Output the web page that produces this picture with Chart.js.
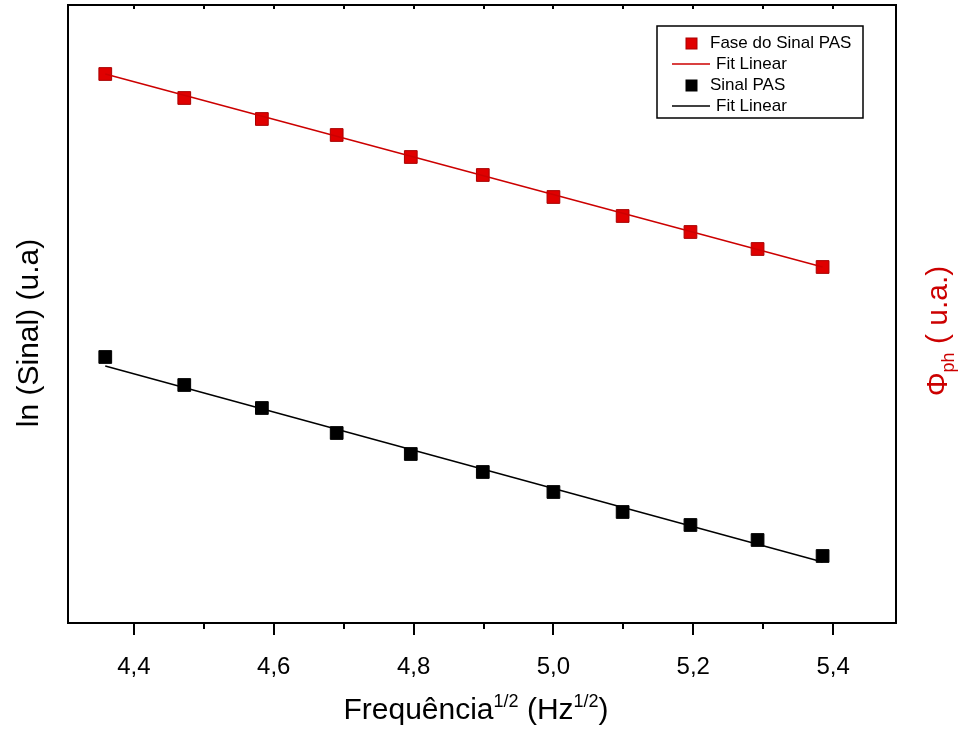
<!DOCTYPE html>
<html>
<head>
<meta charset="utf-8">
<script src="https://cdn.jsdelivr.net/npm/chart.js@4/dist/chart.umd.min.js"></script>
<style>
  html, body { margin: 0; padding: 0; background: #fff; }
  #wrap { width: 965px; height: 731px; }
</style>
</head>
<body>
<div id="wrap"><canvas id="chart" width="965" height="731"></canvas></div>
<script>
// sqrt(frequency) values on the x axis
const freqSqrt = [4.359, 4.472, 4.583, 4.690, 4.796, 4.899, 5.000, 5.099, 5.196, 5.292, 5.385];
// signal values (arbitrary units, no ticks shown on the y axis)
const faseSinal = [549, 525, 504, 488, 466, 448, 426, 407, 391, 374, 356];
const sinalPAS = [266, 238, 215, 190, 169, 151, 131, 111, 98, 83, 67];
// fitted lines, endpoints
const fitX = [4.359, 5.385];
const faseFit = [549, 356];
const sinalFit = [257, 61];
// tick labels
const majorTicks = [4.4, 4.6, 4.8, 5.0, 5.2, 5.4];
const minorTicks = [4.3, 4.5, 4.7, 4.9, 5.1, 5.3];

const FONT = "'Liberation Sans', Arial, sans-serif";
const RED = '#e00000';
const RED_DARK = '#a80000';

function pts(xs, ys) {
    return xs.map((x, i) => ({ x: x, y: ys[i] }));
}

// Frame, ticks, titles and legend box
const decorPlugin = {
    id: 'decor',
    afterDraw(chart) {
        const ctx = chart.ctx;
        const a = chart.chartArea;
        const xs = chart.scales.x;
        ctx.save();

        // frame
        ctx.strokeStyle = '#000';
        ctx.lineWidth = 2;
        ctx.strokeRect(a.left, a.top, a.right - a.left, a.bottom - a.top);

        // bottom ticks (outside) and top ticks (inside)
        ctx.lineWidth = 2;
        majorTicks.concat(minorTicks).forEach(v => {
            const px = Math.round(xs.getPixelForValue(v));
            if (px < a.left || px > a.right) return;
            const major = majorTicks.includes(v);
            ctx.beginPath();
            ctx.moveTo(px, a.bottom);
            ctx.lineTo(px, a.bottom + (major ? 12 : 6));
            ctx.moveTo(px, a.top);
            ctx.lineTo(px, a.top + 4);
            ctx.stroke();
        });

        // x title with superscripts
        const parts = [
            { t: 'Frequência', s: 30, dy: 0 },
            { t: '1/2', s: 18, dy: -12 },
            { t: ' (Hz', s: 30, dy: 0 },
            { t: '1/2', s: 18, dy: -12 },
            { t: ')', s: 30, dy: 0 }
        ];
        ctx.fillStyle = '#000';
        ctx.textBaseline = 'alphabetic';
        ctx.textAlign = 'left';
        let total = 0;
        parts.forEach(p => { ctx.font = p.s + 'px ' + FONT; total += ctx.measureText(p.t).width; });
        let cx = 476 - total / 2;
        parts.forEach(p => {
            ctx.font = p.s + 'px ' + FONT;
            ctx.fillText(p.t, cx, 719 + p.dy);
            cx += ctx.measureText(p.t).width;
        });

        // left title
        ctx.save();
        ctx.translate(38, 333);
        ctx.rotate(-Math.PI / 2);
        ctx.font = '30px ' + FONT;
        ctx.textAlign = 'center';
        ctx.fillText('ln (Sinal) (u.a)', 0, 0);
        ctx.restore();

        // right title (red, with subscript)
        ctx.save();
        ctx.translate(947, 331);
        ctx.rotate(-Math.PI / 2);
        ctx.fillStyle = '#cc0000';
        const rparts = [
            { t: 'Φ', s: 30, dy: 0 },
            { t: 'ph', s: 18, dy: 7 },
            { t: ' ( u.a.)', s: 30, dy: 0 }
        ];
        let rt = 0;
        rparts.forEach(p => { ctx.font = p.s + 'px ' + FONT; rt += ctx.measureText(p.t).width; });
        let rx = -rt / 2;
        rparts.forEach(p => {
            ctx.font = p.s + 'px ' + FONT;
            ctx.fillText(p.t, rx, p.dy);
            rx += ctx.measureText(p.t).width;
        });
        ctx.restore();

        // legend
        ctx.lineWidth = 1.5;
        ctx.strokeStyle = '#000';
        ctx.strokeRect(657, 26, 206, 92);
        ctx.font = '17px ' + FONT;
        ctx.textBaseline = 'middle';
        const ds = chart.data.datasets;
        const rows = [
            { d: ds[1], y: 43 },
            { d: ds[0], y: 64 },
            { d: ds[3], y: 85 },
            { d: ds[2], y: 106 }
        ];
        rows.forEach(r => {
            if (r.d.showLine) {
                ctx.strokeStyle = r.d.borderColor;
                ctx.lineWidth = 1.5;
                ctx.beginPath();
                ctx.moveTo(672, r.y);
                ctx.lineTo(710, r.y);
                ctx.stroke();
                ctx.fillStyle = '#000';
                ctx.fillText(r.d.label, 716, r.y);
            } else {
                ctx.fillStyle = r.d.backgroundColor;
                ctx.strokeStyle = r.d.borderColor;
                ctx.lineWidth = 1;
                ctx.fillRect(686, r.y - 5, 11, 11);
                ctx.strokeRect(686, r.y - 5, 11, 11);
                ctx.fillStyle = '#000';
                ctx.fillText(r.d.label, 710, r.y);
            }
        });
        ctx.restore();
    }
};

new Chart(document.getElementById('chart'), {
    type: 'scatter',
    data: {
        datasets: [
            {
                label: 'Fit Linear',
                data: pts(fitX, faseFit),
                showLine: true,
                borderColor: '#cc0000',
                borderWidth: 1.5,
                pointRadius: 0
            },
            {
                label: 'Fase do Sinal PAS',
                data: pts(freqSqrt, faseSinal),
                backgroundColor: RED,
                borderColor: RED_DARK,
                borderWidth: 1,
                pointStyle: 'rect',
                pointRadius: 9
            },
            {
                label: 'Fit Linear',
                data: pts(fitX, sinalFit),
                showLine: true,
                borderColor: '#000',
                borderWidth: 1.5,
                pointRadius: 0
            },
            {
                label: 'Sinal PAS',
                data: pts(freqSqrt, sinalPAS),
                backgroundColor: '#000',
                borderColor: '#000',
                borderWidth: 1,
                pointStyle: 'rect',
                pointRadius: 9
            }
        ]
    },
    options: {
        responsive: false,
        animation: false,
        layout: { autoPadding: false, padding: { left: 68, right: 69, top: 5, bottom: 0 } },
        plugins: {
            legend: { display: false },
            tooltip: { enabled: false }
        },
        scales: {
            x: {
                type: 'linear',
                min: 4.3057,
                max: 5.49,
                grid: { display: false },
                border: { display: false },
                afterBuildTicks: scale => {
                    scale.ticks = majorTicks.map(v => ({ value: v }));
                },
                afterFit: scale => { scale.height = 108; },
                ticks: {
                    padding: 22,
                    color: '#000',
                    font: { family: FONT, size: 24 },
                    callback: v => v.toFixed(1).replace('.', ',')
                }
            },
            y: {
                display: false,
                min: 0,
                max: 618
            }
        }
    },
    plugins: [decorPlugin]
});
</script>
</body>
</html>
